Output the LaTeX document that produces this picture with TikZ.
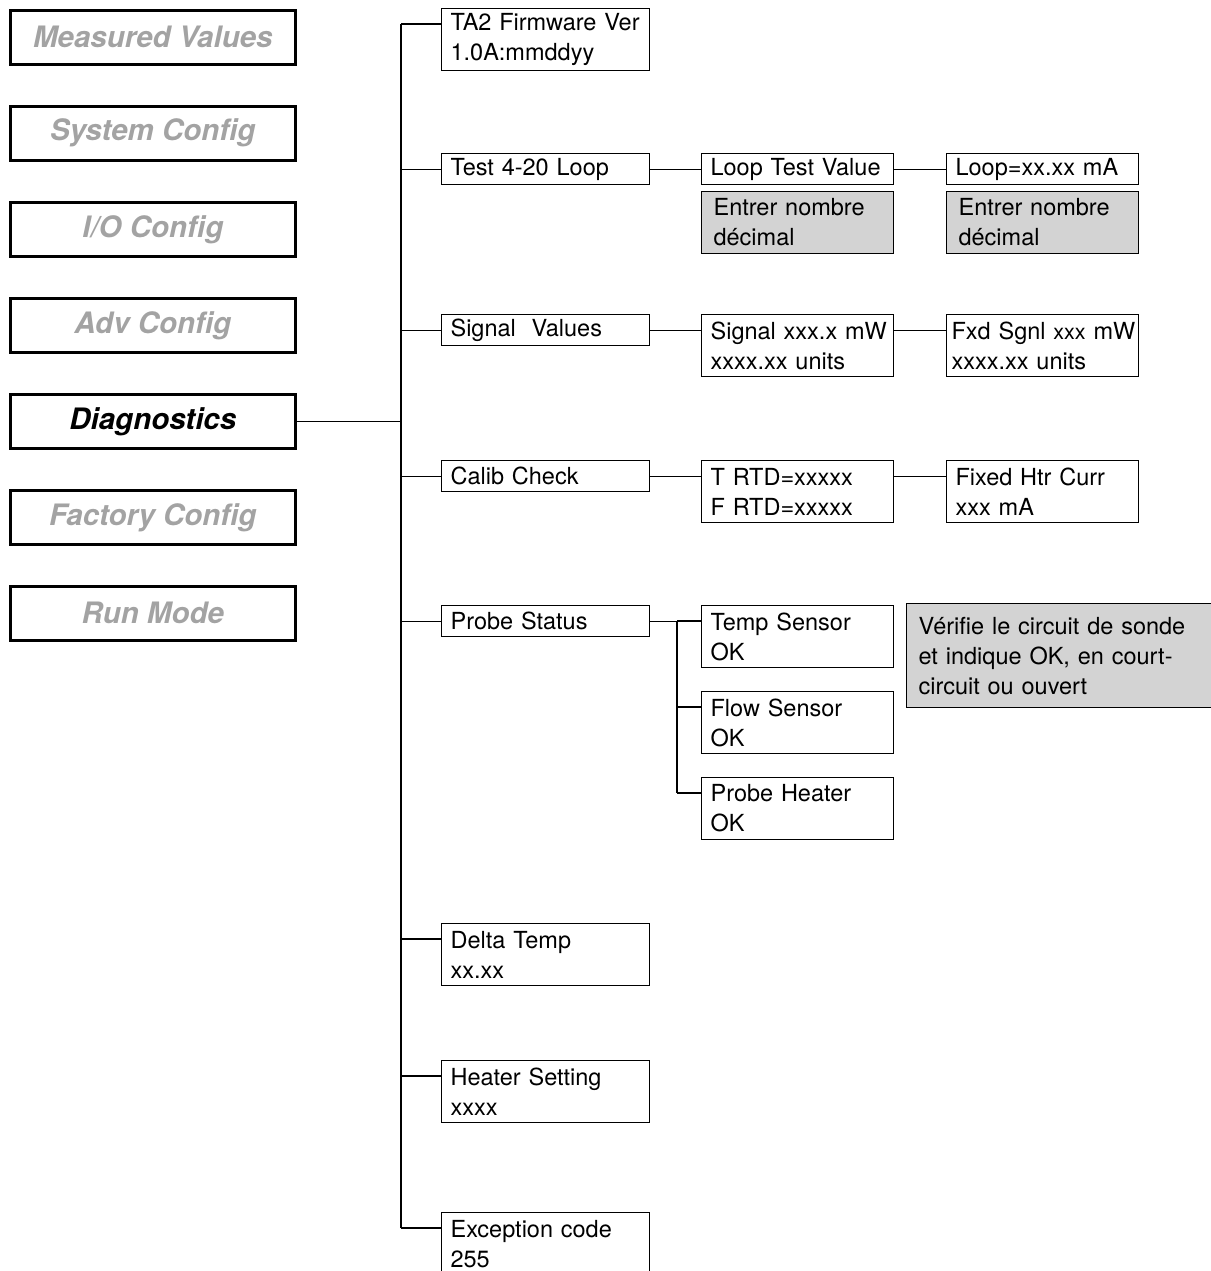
\documentclass[tikz,border=0pt]{standalone}
\usepackage{fontspec}
\setmainfont{TeX Gyre Heros}
\definecolor{menugray}{HTML}{A3A3A3}
\definecolor{notegray}{HTML}{D3D3D3}
\begin{document}
\begin{tikzpicture}[x=1pt,y=-1pt,
  menu/.style={draw, line width=2.6pt, minimum width=285pt, minimum height=54pt, inner sep=0pt,
    font=\fontsize{29.5}{32}\selectfont\bfseries\itshape, text=menugray, anchor=north west},
  item/.style={draw, line width=1.2pt, inner xsep=9pt, inner ysep=0pt, align=left, anchor=north west,
    font=\fontsize{23.5}{30}\selectfont},
  cA/.style={item, minimum width=208pt, text width=190pt},
  cB/.style={item, minimum width=192pt, text width=174pt},
  one/.style={minimum height=31pt},
  two/.style={minimum height=62pt},
  shade/.style={fill=notegray, inner xsep=12pt},
  link/.style={line width=1.2pt}]
\useasboundingbox (0,0) rectangle (1210,1271);
% left menu
\node[menu] (mv) at (9,9) {Measured Values};
\node[menu] (sc) at (9,105) {System Config};
\node[menu] (io) at (9,201) {I/O Config};
\node[menu] (ac) at (9,297) {Adv Config};
\node[menu, text=black] (diag) at (9,393) {Diagnostics};
\node[menu] (fc) at (9,489) {Factory Config};
\node[menu] (rm) at (9,585) {Run Mode};
% column 2
\node[cA, two] (fw) at (441,8) {TA2 Firmware Ver\\1.0A:mmddyy};
\node[cA, one] (tl) at (441,153) {Test 4-20 Loop};
\node[cA, one] (sv) at (441,314) {Signal\ \ Values};
\node[cA, one] (cc) at (441,460) {Calib Check};
\node[cA, one] (ps) at (441,605) {Probe Status};
\node[cA, two] (dt) at (441,923) {Delta Temp\\xx.xx};
\node[cA, two] (hs) at (441,1060) {Heater Setting\\xxxx};
\node[cA, two] (ex) at (441,1212) {Exception code\\255};
% column 3
\node[cB, one] (ltv) at (701,153) {\mbox{Loop Test Value}};
\node[cB, two, shade, text width=168pt] (ltvn) at (701,191) {Entrer nombre\\décimal};
\node[cB, two] (sig) at (701,314) {\mbox{Signal xxx.x mW}\\xxxx.xx units};
\node[cB, two] (rtd) at (701,460) {T RTD=xxxxx\\F RTD=xxxxx};
\node[cB, two] (ts) at (701,605) {Temp Sensor\\OK};
\node[cB, two] (fs) at (701,691) {Flow Sensor\\OK};
\node[cB, two] (ph) at (701,777) {Probe Heater\\OK};
% column 4
\node[cB, one] (lp) at (946,153) {\mbox{Loop=xx.xx mA}};
\node[cB, two, shade, text width=168pt] (lpn) at (946,191) {Entrer nombre\\décimal};
\node[cB, two, inner xsep=5pt, text width=182pt] (fxd) at (946,314) {\mbox{Fxd Sgnl {\fontsize{21.5}{30}\selectfont xxx} mW}\\xxxx.xx units};
\node[cB, two] (fhc) at (946,460) {\mbox{Fixed Htr Curr}\\xxx mA};
\node[item, shade, minimum width=306pt, text width=282pt, minimum height=104pt] (note) at (906,603)
  {Vérifie le circuit de sonde\\et indique OK, en court-\\circuit ou ouvert};
% attach points
\coordinate (bus) at (401,0);
\coordinate (pbus) at (677,0);
\coordinate (fwp) at ([yshift=-16pt]fw.north west);
\coordinate (dtp) at ([yshift=-16pt]dt.north west);
\coordinate (hsp) at ([yshift=-16pt]hs.north west);
\coordinate (exp) at ([yshift=-16pt]ex.north west);
\coordinate (tsp) at ([yshift=-16pt]ts.north west);
\coordinate (fsp) at ([yshift=-16pt]fs.north west);
\coordinate (php) at ([yshift=-16pt]ph.north west);
% connectors
\draw[link] (diag.east) -- (diag.east -| bus);
\draw[link] (fwp -| bus) -- (exp -| bus);
\foreach \p in {fwp, tl.west, sv.west, cc.west, ps.west, dtp, hsp, exp}
  \draw[link] (\p -| bus) -- (\p);
\draw[link] (tl.east) -- (tl.east -| ltv.west);
\draw[link] (ltv.east) -- (ltv.east -| lp.west);
\draw[link] (sv.east) -- (sv.east -| sig.west);
\draw[link] (sv.east -| sig.east) -- (sv.east -| fxd.west);
\draw[link] (cc.east) -- (cc.east -| rtd.west);
\draw[link] (cc.east -| rtd.east) -- (cc.east -| fhc.west);
\draw[link] (ps.east) -- (ps.east -| pbus);
\draw[link] (ps.east -| pbus) -- (php -| pbus);
\foreach \p in {tsp, fsp, php}
  \draw[link] (\p -| pbus) -- (\p);
\end{tikzpicture}
\end{document}
